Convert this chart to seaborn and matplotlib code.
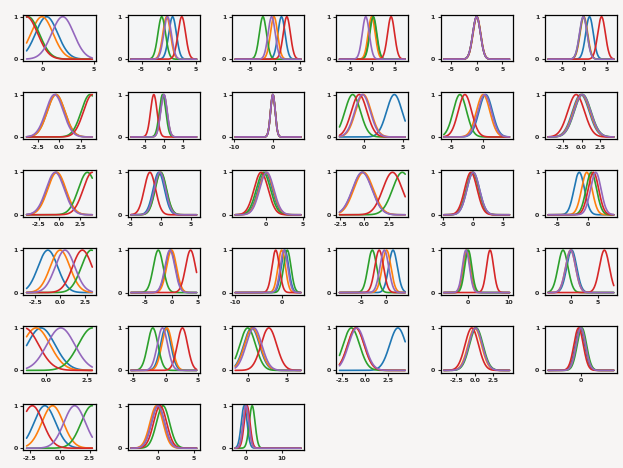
import numpy as np
import pandas as pd
import matplotlib
matplotlib.use("Agg")
import matplotlib.pyplot as plt
import seaborn as sns

# per-panel x range of the curves, gaussian width and tick marks
x_lo = [-1.55, -6.96, -8.0, -7.4, -6.36, -8.0,
        -3.76, -8.6, -9.75, -3.18, -6.1, -4.43,
        -4.0, -4.95, -4.16, -2.58, -4.95, -6.42,
        -3.4, -7.73, -10.0, -9.4, -5.83, -4.09,
        -1.18, -5.4, -1.6, -2.8, -4.15, -7.0,
        -2.78, -3.75, -3.0]
x_hi = [4.85, 5.16, 5.2, 7.4, 6.36, 6.5,
        3.76, 8.6, 7.25, 5.3, 4.17, 4.26,
        4.0, 6.0, 4.69, 4.2, 6.1, 4.19,
        3.27, 4.75, 4.13, 3.86, 10.25, 7.84,
        2.82, 4.8, 6.8, 4.4, 4.65, 7.0,
        2.73, 5.35, 15.2]
sigma = [1.08, 0.7, 0.72, 0.79, 0.74, 0.84,
         1.0, 0.85, 0.6, 1.0, 1.05, 1.1,
         1.1, 0.94, 0.95, 1.0, 1.05, 0.85,
         1.0, 0.94, 0.8, 0.88, 0.87, 0.9,
         0.85, 0.8, 1.0, 0.9, 0.9, 1.0,
         0.9, 0.9, 0.8]

# peak positions: blue, orange, green, red, purple
means = [
    [0.4, -0.05, -1.4, -1.55, 1.97],
    [0.73, -0.36, -1.27, 2.43, -0.2],
    [1.3, -0.2, -2.43, 2.37, -0.67],
    [0.1, -0.15, 0.22, 4.22, -1.48],
    [0.0, 0.05, 0.0, 0.0, 0.0],
    [1.14, -0.1, -0.2, 3.8, -0.23],
    [-0.4, -0.38, 3.5, 3.76, -0.56],
    [0.0, 0.0, -0.3, -2.6, 0.05],
    [0.0, 0.0, 0.0, 0.0, 0.0],
    [3.9, -0.1, -1.48, -0.64, -0.21],
    [0.45, 0.05, -3.58, -2.8, 0.3],
    [-0.1, 0.0, 0.14, -0.72, 0.1],
    [-0.4, -0.32, 3.4, 4.0, -0.52],
    [-0.3, 0.0, 0.05, -1.78, -0.11],
    [-0.13, 0.0, -0.36, -0.67, 0.09],
    [-0.2, -0.1, 3.9, 2.89, -0.24],
    [0.0, -0.1, -0.1, -0.39, 0.0],
    [-1.39, -0.17, 0.56, 0.9, 1.28],
    [-1.24, 0.0, 3.16, 2.26, 0.5],
    [-0.2, 0.0, -2.53, 3.6, -0.32],
    [0.7, 0.0, 1.2, -1.29, 0.5],
    [1.4, 0.1, -2.78, -1.39, -0.35],
    [-0.2, -0.25, 0.16, 5.49, -0.41],
    [0.2, 0.0, -1.38, 6.13, 0.0],
    [-0.3, -0.6, 2.82, -1.3, 0.9],
    [0.0, 0.2, -2.0, 2.6, -0.5],
    [0.5, 0.6, 0.0, 2.7, 0.8],
    [3.6, -1.0, -1.5, -1.0, -0.9],
    [0.1, 0.0, 0.2, -0.4, 0.1],
    [-0.2, 0.0, 0.2, -0.5, 0.0],
    [-1.25, -0.6, 2.7, -2.3, 1.25],
    [0.0, -0.2, 0.7, 0.3, 0.0],
    [-0.5, 0.0, 1.7, 0.3, 0.0],
]

xticks = [
    [0, 5], [-5, 0, 5], [-5, 0, 5], [-5, 0, 5], [-5, 0, 5], [-5, 0, 5],
    [-2.5, 0.0, 2.5], [-5, 0, 5], [-10, 0], [0, 5], [-5, 0], [-2.5, 0.0, 2.5],
    [-2.5, 0.0, 2.5], [-5, 0, 5], [0, 5], [-2.5, 0.0, 2.5], [-5, 0, 5], [-5, 0],
    [-2.5, 0.0, 2.5], [-5, 0, 5], [-10, 0], [-5, 0], [0, 10], [0, 5],
    [0.0, 2.5], [-5, 0, 5], [0, 5], [-2.5, 0.0, 2.5], [-2.5, 0.0, 2.5], [0],
    [-2.5, 0.0, 2.5], [0, 5], [0, 10],
]

curve_names = ["c0", "c1", "c2", "c3", "c4"]
palette = sns.color_palette("tab10")[:5]

sns.set_style("ticks")
plt.rcParams["font.family"] = ["DejaVu Sans"]

fig, axes = plt.subplots(6, 6, figsize=(6.23, 4.68), dpi=100)
fig.patch.set_facecolor("#f7f5f4")
fig.subplots_adjust(left=0.0374, right=0.9905, top=0.9688, bottom=0.0378,
                    wspace=0.443, hspace=0.666)

for i, ax in enumerate(axes.flat):
    if i >= len(means):
        ax.remove()
        continue
    x = np.linspace(x_lo[i], x_hi[i], 200)
    rows = []
    for name, mu in zip(curve_names, means[i]):
        y = np.exp(-(x - mu) ** 2 / (2 * sigma[i] ** 2))
        rows.append(pd.DataFrame({"x": x, "y": y, "curve": name}))
    df = pd.concat(rows)
    sns.lineplot(data=df, x="x", y="y", hue="curve", palette=palette,
                 ax=ax, legend=False, linewidth=1.2, estimator=None, sort=False)
    ax.set_facecolor("#f4f5f6")
    ax.set_ylim(-0.05, 1.05)
    ax.set_yticks([0, 1])
    ax.set_yticklabels(["0", "1"])
    ax.set_xticks(xticks[i])
    ax.set_xticklabels([f"{t:.1f}" if isinstance(t, float) else f"{t}" for t in xticks[i]])
    ax.set_xlabel("")
    ax.set_ylabel("")
    ax.tick_params(labelsize=4.5, length=2.5, width=0.8, pad=1.5)
    for lab in ax.get_xticklabels() + ax.get_yticklabels():
        lab.set_fontweight("bold")
    for sp in ax.spines.values():
        sp.set_visible(True)
        sp.set_linewidth(0.9)
        sp.set_color("black")

fig.savefig("out.png", dpi=100, facecolor=fig.get_facecolor())
